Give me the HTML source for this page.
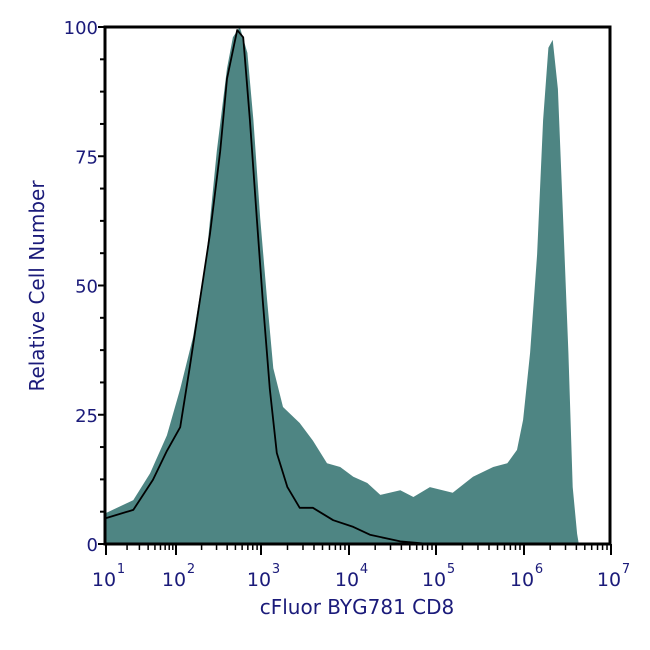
<!DOCTYPE html>
<html><head><meta charset="utf-8"><style>
html,body{margin:0;padding:0;background:#fff;}
svg{display:block;font-family:"DejaVu Sans","Liberation Sans",sans-serif;}
</style></head><body>
<svg id="chart" width="650" height="650" viewBox="0 0 650 650">
<g id="marks"></g>
<g id="axes"></g>
<text x="357" y="614" font-size="20" fill="#1b1b7a" text-anchor="middle">cFluor BYG781 CD8</text>
<text transform="translate(44,286) rotate(-90)" font-size="20" fill="#1b1b7a" text-anchor="middle">Relative Cell Number</text>
</svg>
<script>
// data
const filledLog = [1.0,1.39,1.63,1.87,2.05,2.20,2.36,2.48,2.60,2.67,2.75,2.84,2.91,2.99,3.07,3.14,3.25,3.44,3.59,3.75,3.90,4.05,4.21,4.36,4.59,4.74,4.93,5.19,5.42,5.65,5.81,5.92,5.99,6.07,6.15,6.22,6.28,6.33,6.39,6.45,6.51,6.56,6.61,6.63];
const filledVal = [6,8.5,13.7,21,30,40,56,76,92,98,100,95,82,63,47,34,26.5,23.4,20,15.6,14.9,13,11.8,9.5,10.4,9.1,11,9.9,13,14.9,15.6,18.2,24,37,56,82,96,97.5,88,63,37,11,2,0];
const lineLog = [1.0,1.39,1.67,1.87,2.05,2.16,2.28,2.40,2.52,2.60,2.72,2.79,2.87,2.95,3.02,3.10,3.18,3.30,3.44,3.59,3.82,4.05,4.24,4.59,4.93];
const lineVal = [5,6.6,12.4,18,22.6,34,47,60,76,90,99.4,98,82,63,47,30,17.6,11,7,7,4.6,3.3,1.8,0.5,0];
const xTickExp = [1,2,3,4,5,6,7];
const yTicks = [0,25,50,75,100];

const decadePx = [106,176,261,349,436,524,611];
const L=105,R=610,T=27,B=544;
function xs(lg){
  const i=Math.min(5,Math.max(0,Math.floor(lg-1)));
  return decadePx[i]+(lg-1-i)*(decadePx[i+1]-decadePx[i]);
}
function ys(v){return B-(v/100)*(B-T);}
const NS="http://www.w3.org/2000/svg";
function mk(tag,attrs,parent){const e=document.createElementNS(NS,tag);for(const k in attrs)e.setAttribute(k,attrs[k]);parent.appendChild(e);return e;}
const marks=document.getElementById('marks'),axes=document.getElementById('axes');

let d=`M${xs(filledLog[0])},${B}`;
filledLog.forEach((l,i)=>{d+=` L${xs(l).toFixed(1)},${ys(filledVal[i]).toFixed(1)}`;});
d+=` L${xs(filledLog[filledLog.length-1])},${B} Z`;
const area=mk('path',{d:d,fill:'#4e8583',stroke:'none'},marks);



let d2='';
lineLog.forEach((l,i)=>{d2+=(i?' L':'M')+xs(l).toFixed(1)+','+ys(lineVal[i]).toFixed(1);});
const ln=mk('path',{d:d2,fill:'none',stroke:'#000','stroke-width':1.8,'stroke-linejoin':'round'},marks);



const frame=mk('rect',{x:L,y:T,width:R-L,height:B-T,fill:'none',stroke:'#000','stroke-width':3},axes);



for(let v=0;v<=100;v+=6.25){
  const major=(v%25===0);
  mk('line',{x1:L-(major?7:5),x2:L,y1:ys(v),y2:ys(v),stroke:'#000','stroke-width':2},axes);
}
yTicks.forEach(v=>{
  const t=mk('text',{x:L-7,y:ys(v)+7,'font-size':18,fill:'#1b1b7a','text-anchor':'end'},axes);
  t.textContent=v;
  
  
});
xTickExp.forEach((e,i)=>{
  const x=xs(e);
  mk('line',{x1:x,x2:x,y1:B,y2:B+11,stroke:'#000','stroke-width':2},axes);
  if(i<xTickExp.length-1){
    for(let m=2;m<=9;m++){
      const xm=xs(e+Math.log10(m));
      mk('line',{x1:xm,x2:xm,y1:B,y2:B+6,stroke:'#000','stroke-width':1.5},axes);
    }
  }
  const t=mk('text',{x:x-2,y:586,'font-size':19,fill:'#1b1b7a','text-anchor':'middle'},axes);
  t.textContent='10';
  
  
  const s=mk('text',{x:x+15,y:573,'font-size':13,fill:'#1b1b7a','text-anchor':'middle'},axes);
  s.textContent=String(e);
  
  
});
</script>
</body></html>
